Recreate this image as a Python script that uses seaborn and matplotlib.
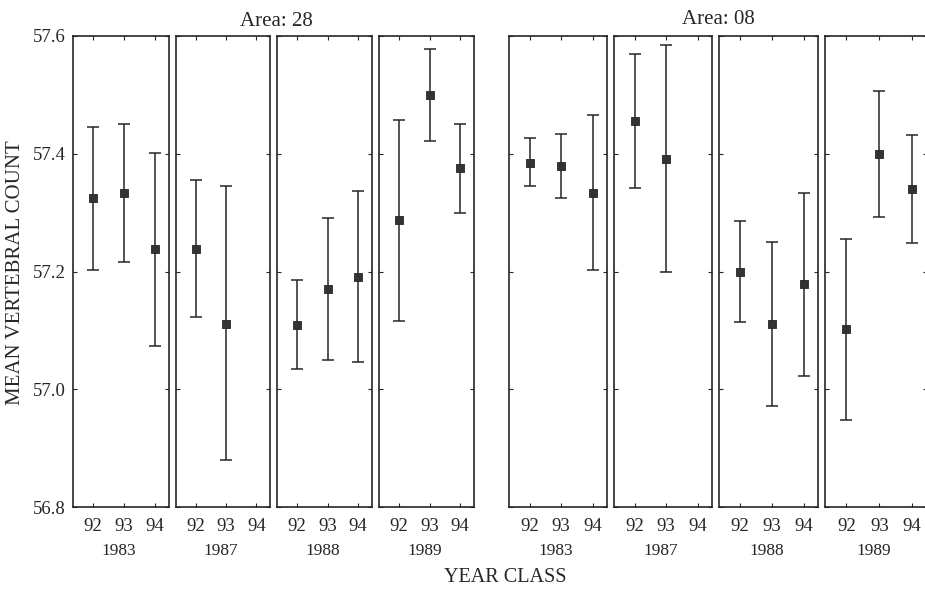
"""Mean vertebral count by year class, spawning year and area."""
import numpy as np
import pandas as pd
import matplotlib
matplotlib.use('Agg')
import matplotlib.pyplot as plt
import seaborn as sns

# data (None = no sample)
spawn_years = [1983, 1987, 1988, 1989]
year_classes = [92, 93, 94]
areas = ['28', '08']

a28_mean = [[57.325, 57.334, 57.238], [57.239, 57.111, None],
            [57.109, 57.171, 57.191], [57.288, 57.500, 57.375]]
a28_low = [[57.203, 57.216, 57.073], [57.122, 56.879, None],
           [57.034, 57.050, 57.046], [57.116, 57.422, 57.299]]
a28_high = [[57.445, 57.451, 57.402], [57.355, 57.345, None],
            [57.186, 57.291, 57.336], [57.457, 57.578, 57.450]]

a08_mean = [[57.385, 57.380, 57.333], [57.455, 57.391, None],
            [57.200, 57.110, 57.179], [57.102, 57.400, 57.340]]
a08_low = [[57.345, 57.324, 57.203], [57.341, 57.199, None],
           [57.114, 56.971, 57.023], [56.948, 57.292, 57.248]]
a08_high = [[57.426, 57.434, 57.465], [57.569, 57.584, None],
            [57.286, 57.250, 57.334], [57.256, 57.507, 57.431]]

y_ticks = [56.8, 57.0, 57.2, 57.4, 57.6]

rows = []
for area, mean, low, high in [('28', a28_mean, a28_low, a28_high),
                              ('08', a08_mean, a08_low, a08_high)]:
    for i, yr in enumerate(spawn_years):
        for j, yc in enumerate(year_classes):
            if mean[i][j] is None:
                continue
            rows.append({'area': area, 'spawn': yr, 'yc': yc,
                         'mean': mean[i][j], 'low': low[i][j], 'high': high[i][j]})
df = pd.DataFrame(rows)

sns.set_style('ticks')
plt.rcParams['font.family'] = ['Liberation Serif', 'DejaVu Serif']

W, H = 925, 590
fig = plt.figure(figsize=(W / 100, H / 100), dpi=100)
INK = '#262626'

# panel left edges / widths in pixels
lefts = {'28': [73, 176, 277, 379], '08': [509, 614, 719, 825]}
widths = {'28': [96, 94, 95, 95], '08': [98, 98, 99, 102]}
top_px, bot_px = 36, 507

for area in areas:
    for k, yr in enumerate(spawn_years):
        x0, w = lefts[area][k], widths[area][k]
        ax = fig.add_axes([x0 / W, 1 - bot_px / H, w / W, (bot_px - top_px) / H])
        sub = df[(df['area'] == area) & (df['spawn'] == yr)]
        ax.errorbar(sub['yc'], sub['mean'],
                    yerr=[sub['mean'] - sub['low'], sub['high'] - sub['mean']],
                    fmt='none', ecolor=INK, elinewidth=1.1, capsize=4, capthick=1.1)
        sns.scatterplot(data=sub, x='yc', y='mean', marker='s', s=26,
                        color='#333333', edgecolor=INK, linewidth=0.6, ax=ax, zorder=3)
        ax.set_xlim(91.35, 94.45)
        ax.set_ylim(56.8, 57.6)
        ax.set_xticks(year_classes)
        ax.set_xticklabels([str(v) for v in year_classes], fontsize=13.5, color=INK)
        ax.set_yticks(y_ticks)
        if area == '28' and k == 0:
            ax.set_yticklabels([f'{v:.1f}' for v in y_ticks], fontsize=13.5, color=INK)
        else:
            ax.set_yticklabels([])
        ax.tick_params(direction='in', length=3, width=0.8, color=INK,
                       top=True, right=True)
        ax.tick_params(axis='x', pad=8)
        ax.tick_params(axis='y', pad=5)
        for sp in ax.spines.values():
            sp.set_visible(True)
            sp.set_linewidth(1.2)
            sp.set_color(INK)
        ax.set_xlabel('')
        ax.set_ylabel('')
        fig.text((x0 + w / 2 - 2) / W, 1 - 551 / H, str(yr), ha='center', va='center',
                 fontsize=12.5, color=INK)

fig.text(276 / W, 1 - 22 / H, 'Area: 28', ha='center', va='center', fontsize=15, color=INK)
fig.text(718 / W, 1 - 19 / H, 'Area: 08', ha='center', va='center', fontsize=15, color=INK)
fig.text(505 / W, 1 - 578 / H, 'YEAR CLASS', ha='center', va='center', fontsize=14.5, color=INK)
fig.text(16 / W, 1 - 273 / H, 'MEAN VERTEBRAL COUNT', ha='center', va='center',
         rotation=90, fontsize=15, color=INK)

fig.savefig('out.png', dpi=100)
plt.close(fig)
